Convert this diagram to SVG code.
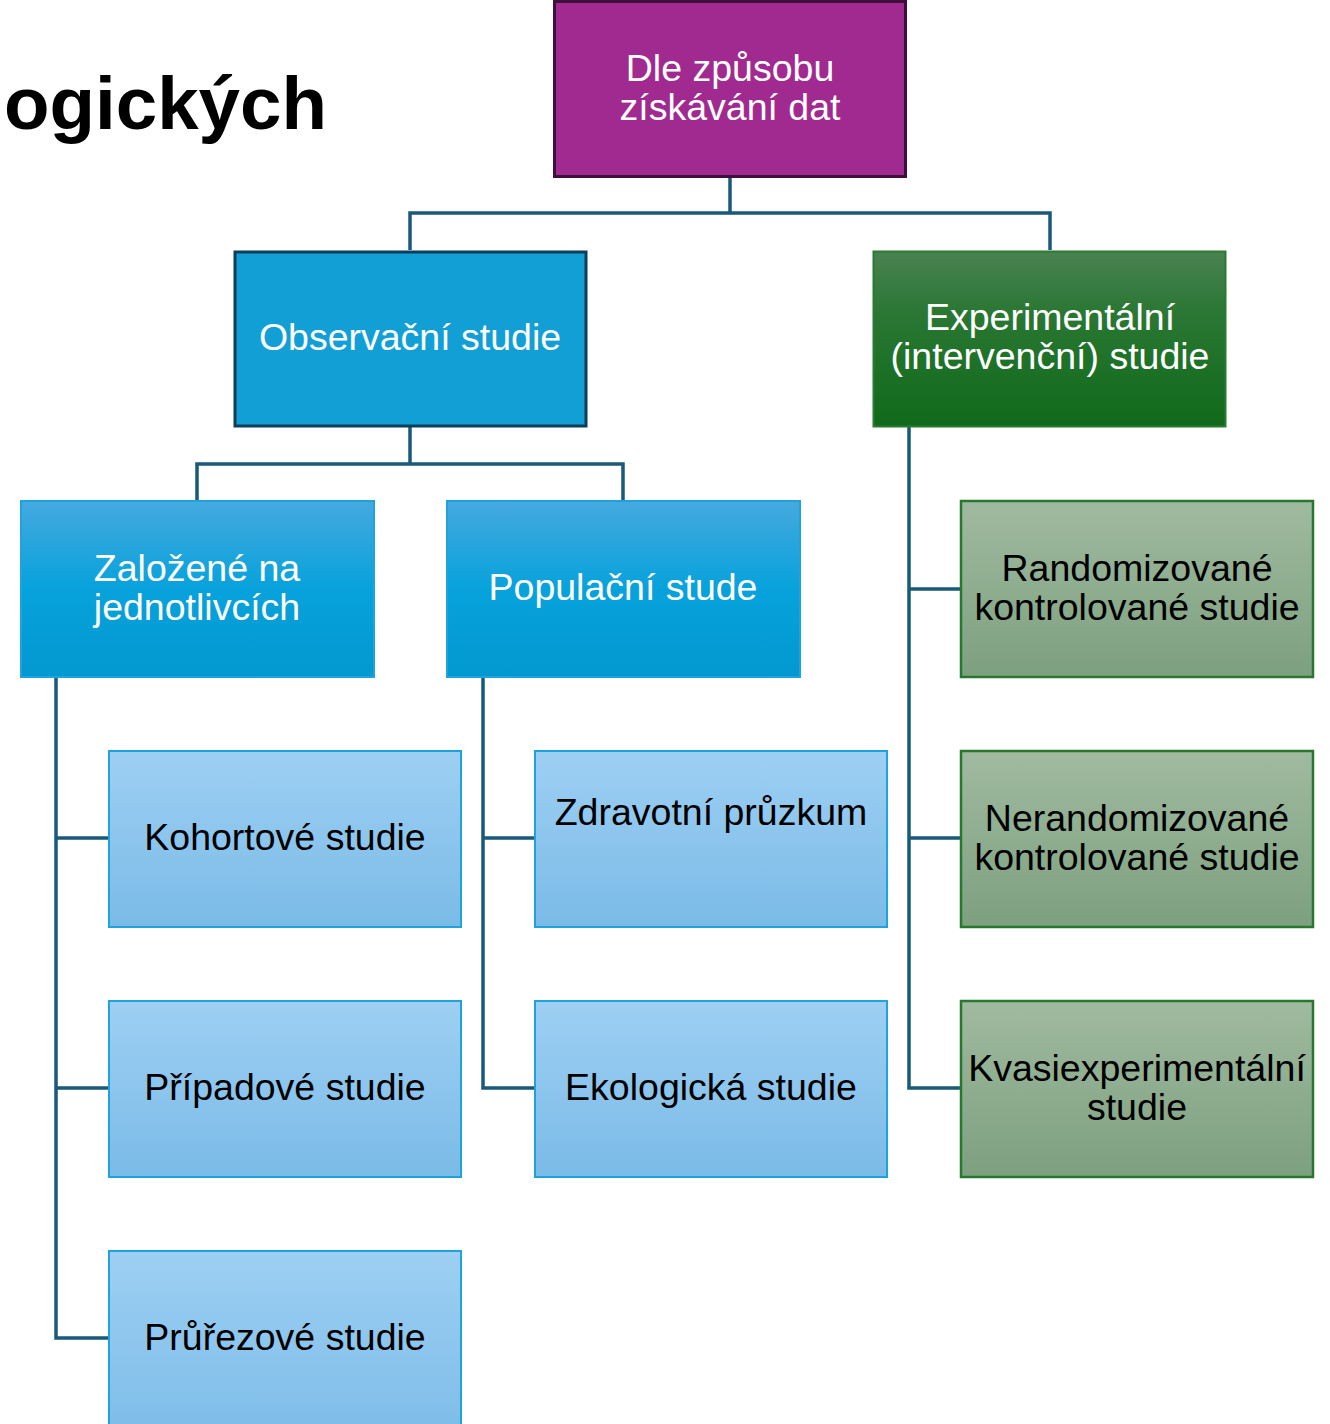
<svg xmlns="http://www.w3.org/2000/svg" width="1330" height="1424" viewBox="0 0 1330 1424">
<defs>
<linearGradient id="gBlue" x1="0" y1="0" x2="0" y2="1"><stop offset="0" stop-color="#45a9de"/><stop offset="0.5" stop-color="#07a2dc"/><stop offset="1" stop-color="#0398d0"/></linearGradient>
<linearGradient id="gLight" x1="0" y1="0" x2="0" y2="1"><stop offset="0" stop-color="#9ecff3"/><stop offset="1" stop-color="#7abbe7"/></linearGradient>
<linearGradient id="gGreen" x1="0" y1="0" x2="0" y2="1"><stop offset="0" stop-color="#4a8252"/><stop offset="0.35" stop-color="#2a7733"/><stop offset="1" stop-color="#106a1b"/></linearGradient>
<linearGradient id="gSage" x1="0" y1="0" x2="0" y2="1"><stop offset="0" stop-color="#a0baa0"/><stop offset="1" stop-color="#7da07f"/></linearGradient>
</defs>
<style>
.t{font-family:"Liberation Sans",Arial,sans-serif;font-size:37.5px;text-anchor:middle}
.w{fill:#ffffff}
.k{fill:#000000}
.conn{fill:none;stroke:#195a79;stroke-width:3.5}
.blue{fill:url(#gBlue);stroke:#1ea3dd;stroke-width:2}
.light{fill:url(#gLight);stroke:#1ea3dd;stroke-width:2}
.sage{fill:url(#gSage);stroke:#27782e;stroke-width:2.5}
</style>
<rect width="1330" height="1424" fill="#ffffff"/>
<text x="4" y="129" font-family="'Liberation Sans',Arial,sans-serif" font-size="74.5" font-weight="bold" fill="#000">ogických</text>
<g id="connectors">
<path class="conn" d="M730 177V213M410 250V213H1050V250"/>
<path class="conn" d="M410 427V464M197 501V464H623V501"/>
<path class="conn" d="M56 677V1338H109M56 838H109M56 1088H109"/>
<path class="conn" d="M483 677V1088H535M483 838H535"/>
<path class="conn" d="M909 427V1088H961M909 589H961M909 838H961"/>
</g>
<g id="n-root"><rect x="554.5" y="1.5" width="351" height="175" fill="#a02a8f" stroke="#3e0f3c" stroke-width="3"/><text class="t w" x="730" y="81">Dle způsobu</text><text class="t w" x="730" y="120">získávání dat</text></g>
<g id="n-obs"><rect x="235" y="252" width="351" height="174" fill="#129fd6" stroke="#0c3e5b" stroke-width="3"/><text class="t w" x="410" y="350">Observační studie</text></g>
<g id="n-exp"><rect x="873.5" y="251.5" width="352" height="175" fill="url(#gGreen)" stroke="#2b7a32" stroke-width="2"/><text class="t w" x="1050" y="330">Experimentální</text><text class="t w" x="1050" y="369">(intervenční) studie</text></g>
<g id="n-ind"><rect x="21" y="501" width="353" height="176" class="blue"/><text class="t w" x="197" y="581">Založené na</text><text class="t w" x="197" y="620">jednotlivcích</text></g>
<g id="n-pop"><rect x="447" y="501" width="353" height="176" class="blue"/><text class="t w" x="623" y="600">Populační stude</text></g>
<g id="n-koh"><rect x="109" y="751" width="352" height="176" class="light"/><text class="t k" x="285" y="850">Kohortové studie</text></g>
<g id="n-pri"><rect x="109" y="1001" width="352" height="176" class="light"/><text class="t k" x="285" y="1100">Případové studie</text></g>
<g id="n-pru"><rect x="109" y="1251" width="352" height="200" class="light"/><text class="t k" x="285" y="1350">Průřezové studie</text></g>
<g id="n-zdr"><rect x="535" y="751" width="352" height="176" class="light"/><text class="t k" x="711" y="825">Zdravotní průzkum</text></g>
<g id="n-eko"><rect x="535" y="1001" width="352" height="176" class="light"/><text class="t k" x="711" y="1100">Ekologická studie</text></g>
<g id="n-rct"><rect x="961" y="501" width="352" height="176" class="sage"/><text class="t k" x="1137" y="581">Randomizované</text><text class="t k" x="1137" y="620">kontrolované studie</text></g>
<g id="n-nrct"><rect x="961" y="751" width="352" height="176" class="sage"/><text class="t k" x="1137" y="831">Nerandomizované</text><text class="t k" x="1137" y="870">kontrolované studie</text></g>
<g id="n-kva"><rect x="961" y="1001" width="352" height="176" class="sage"/><text class="t k" x="1137" y="1081">Kvasiexperimentální</text><text class="t k" x="1137" y="1120">studie</text></g>
</svg>
